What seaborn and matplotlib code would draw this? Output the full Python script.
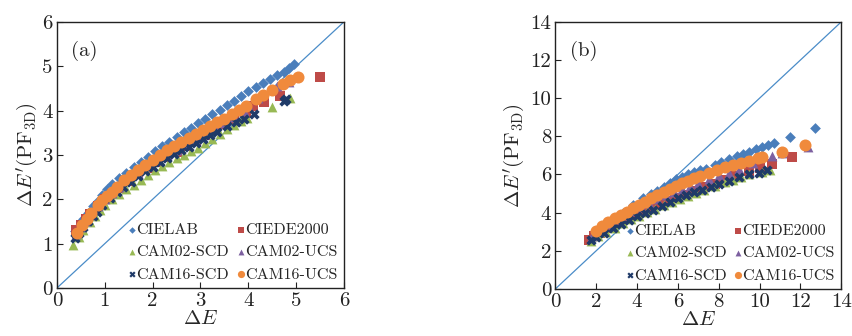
import matplotlib
matplotlib.use("Agg")
import matplotlib.pyplot as plt
import seaborn as sns
import pandas as pd

sns.set_theme(style="white")
plt.rcParams['font.family'] = ['cmr10', 'DejaVu Serif']
plt.rcParams['mathtext.fontset'] = 'cm'
plt.rcParams['axes.formatter.use_mathtext'] = True

series_names = ["CIELAB", "CIEDE2000", "CAM02-SCD", "CAM02-UCS", "CAM16-SCD", "CAM16-UCS"]

# ---------------- Panel (a) ----------------
a_cielab_x = [0.38,0.45,0.55,0.65,0.75,0.85,0.95,1.05,1.15,1.3,1.45,1.6,1.75,1.9,2.05,2.2,2.35,2.5,2.65,2.8,2.95,3.1,3.25,3.4,3.55,3.7,3.85,4.0,4.15,4.3,4.45,4.6,4.75,4.85,4.95]
a_cielab_y = [1.28,1.4,1.55,1.7,1.85,1.97,2.1,2.24,2.34,2.48,2.6,2.72,2.84,2.96,3.08,3.2,3.3,3.41,3.51,3.61,3.72,3.82,3.92,4.02,4.12,4.22,4.32,4.44,4.53,4.62,4.72,4.8,4.88,4.96,5.05]
a_ciede_x = [0.4,0.5,0.6,0.7,0.85,1.0,1.15,1.3,1.5,1.7,1.9,2.1,2.3,2.5,2.7,2.9,3.1,3.3,3.5,3.7,3.95,4.1,4.32,4.67,5.5]
a_ciede_y = [1.3,1.42,1.55,1.67,1.85,2.0,2.12,2.25,2.42,2.56,2.7,2.83,2.95,3.07,3.2,3.32,3.45,3.6,3.7,3.82,3.95,4.1,4.2,4.33,4.75]
a_c02scd_x = [0.34,0.45,0.55,0.68,0.8,0.9,1.0,1.15,1.3,1.45,1.6,1.75,1.9,2.05,2.2,2.35,2.5,2.65,2.8,2.95,3.1,3.25,3.4,3.55,3.7,3.85,3.97,4.5,4.88]
a_c02scd_y = [0.96,1.15,1.3,1.48,1.63,1.76,1.88,2.0,2.12,2.22,2.33,2.44,2.55,2.65,2.74,2.83,2.92,3.0,3.08,3.16,3.26,3.36,3.47,3.59,3.68,3.76,3.84,4.08,4.28]
a_c02ucs_x = [0.4,0.5,0.6,0.7,0.85,1.0,1.15,1.3,1.5,1.7,1.9,2.1,2.3,2.5,2.7,2.9,3.1,3.3,3.5,3.7,3.9,4.0,4.2,4.6,4.85]
a_c02ucs_y = [1.22,1.38,1.52,1.65,1.84,2.0,2.14,2.28,2.45,2.6,2.74,2.88,3.0,3.12,3.24,3.36,3.48,3.6,3.72,3.85,4.0,4.12,4.28,4.55,4.65]
a_c16scd_x = [0.37,0.45,0.55,0.65,0.75,0.83,0.95,1.1,1.25,1.38,1.55,1.7,1.85,2.0,2.15,2.3,2.45,2.6,2.75,2.9,3.05,3.2,3.35,3.55,3.75,3.9,4.11,4.74,4.78]
a_c16scd_y = [1.12,1.25,1.38,1.5,1.62,1.71,1.86,2.02,2.16,2.27,2.4,2.52,2.63,2.73,2.83,2.92,3.01,3.1,3.18,3.26,3.35,3.44,3.52,3.65,3.75,3.82,3.92,4.22,4.27]
a_c16ucs_x = [0.42,0.52,0.62,0.72,0.85,0.95,1.05,1.15,1.25,1.4,1.55,1.7,1.85,2.0,2.15,2.3,2.45,2.6,2.75,2.9,3.05,3.2,3.35,3.5,3.65,3.8,3.95,4.15,4.3,4.5,4.72,4.88,5.03]
a_c16ucs_y = [1.25,1.42,1.56,1.68,1.87,1.98,2.08,2.17,2.28,2.43,2.55,2.67,2.78,2.89,2.99,3.1,3.2,3.29,3.38,3.47,3.56,3.65,3.74,3.82,3.92,4.02,4.1,4.25,4.35,4.47,4.6,4.68,4.75]

# ---------------- Panel (b) ----------------
b_cielab_x = [1.8,2.3,2.8,3.3,3.8,4.3,4.7,5.0,5.3,5.6,5.9,6.2,6.5,6.8,7.1,7.4,7.8,8.1,8.5,8.9,9.2,9.5,9.8,10.1,10.4,10.7,11.5,12.7]
b_cielab_y = [2.7,3.15,3.6,4.0,4.4,4.75,5.0,5.15,5.35,5.55,5.75,5.85,6.0,6.15,6.25,6.3,6.5,6.65,6.8,6.95,7.05,7.2,7.35,7.45,7.55,7.65,7.98,8.45]
b_ciede_x = [1.65,1.9,2.2,2.6,3.0,3.4,3.8,4.2,4.6,5.0,5.4,5.85,6.3,6.8,7.3,7.8,8.3,8.8,9.46,10.0,10.6,11.6]
b_ciede_y = [2.58,2.75,2.95,3.2,3.45,3.65,3.85,4.05,4.25,4.45,4.6,4.75,4.95,5.15,5.35,5.52,5.7,5.9,6.2,6.35,6.55,6.92]
b_c02scd_x = [1.75,2.1,2.5,2.9,3.3,3.7,4.1,4.5,4.9,5.3,5.7,6.1,6.5,6.9,7.3,7.8,8.3,8.7,9.1,9.5,10.1,10.5]
b_c02scd_y = [2.5,2.75,3.0,3.22,3.45,3.65,3.85,4.02,4.2,4.38,4.55,4.72,4.88,5.02,5.2,5.4,5.58,5.72,5.85,6.0,6.15,6.25]
b_c02ucs_x = [1.8,2.2,2.6,3.0,3.4,3.8,4.2,4.6,5.0,5.4,5.8,6.2,6.6,7.0,7.5,8.0,8.5,9.0,9.7,10.6,11.1,12.35]
b_c02ucs_y = [2.75,3.1,3.4,3.65,3.9,4.1,4.3,4.5,4.7,4.9,5.08,5.25,5.42,5.55,5.75,5.95,6.1,6.3,6.6,6.95,7.1,7.45]
b_c16scd_x = [1.75,2.0,2.4,2.8,3.2,3.6,4.0,4.4,4.8,5.2,5.6,6.0,6.4,6.8,7.2,7.6,8.0,8.5,9.0,9.5,9.95,10.35]
b_c16scd_y = [2.58,2.72,2.95,3.18,3.4,3.6,3.8,3.98,4.15,4.35,4.55,4.78,4.92,5.08,5.2,5.35,5.5,5.65,5.85,6.0,6.1,6.25]
b_c16ucs_x = [2.0,2.3,2.6,2.9,3.2,3.5,3.8,4.1,4.4,4.7,5.0,5.3,5.6,5.9,6.2,6.5,6.8,7.1,7.5,7.9,8.3,8.7,9.1,9.5,9.9,10.1,11.1,12.2]
b_c16ucs_y = [3.05,3.3,3.5,3.7,3.88,4.05,4.22,4.38,4.55,4.75,4.93,5.08,5.25,5.4,5.55,5.68,5.8,5.92,6.08,6.25,6.4,6.52,6.6,6.72,6.85,6.92,7.2,7.55]

a_ticks = [0, 1, 2, 3, 4, 5, 6]
b_ticks = [0, 2, 4, 6, 8, 10, 12, 14]

colors = {"CIELAB": "#4a7ebb", "CIEDE2000": "#be4b48", "CAM02-SCD": "#98b954",
          "CAM02-UCS": "#7d60a0", "CAM16-SCD": "#1f3a68", "CAM16-UCS": "#f08a3c"}
markers = {"CIELAB": "D", "CIEDE2000": "s", "CAM02-SCD": "^", "CAM02-UCS": "^",
           "CAM16-SCD": "X", "CAM16-UCS": "o"}
sizes = {"CIELAB": 30, "CIEDE2000": 55, "CAM02-SCD": 50, "CAM02-UCS": 50,
         "CAM16-SCD": 55, "CAM16-UCS": 75}

panel_a = {
    "CIELAB": (a_cielab_x, a_cielab_y), "CIEDE2000": (a_ciede_x, a_ciede_y),
    "CAM02-SCD": (a_c02scd_x, a_c02scd_y), "CAM02-UCS": (a_c02ucs_x, a_c02ucs_y),
    "CAM16-SCD": (a_c16scd_x, a_c16scd_y), "CAM16-UCS": (a_c16ucs_x, a_c16ucs_y),
}
panel_b = {
    "CIELAB": (b_cielab_x, b_cielab_y), "CIEDE2000": (b_ciede_x, b_ciede_y),
    "CAM02-SCD": (b_c02scd_x, b_c02scd_y), "CAM02-UCS": (b_c02ucs_x, b_c02ucs_y),
    "CAM16-SCD": (b_c16scd_x, b_c16scd_y), "CAM16-UCS": (b_c16ucs_x, b_c16ucs_y),
}

fig = plt.figure(figsize=(8.53, 3.36), dpi=100)
ax_a = fig.add_axes([0.0668, 0.143, 0.3365, 0.792])
ax_b = fig.add_axes([0.651, 0.140, 0.3353, 0.795])


def draw(ax, data, ticks, lim, tag):
    ax.plot([0, lim], [0, lim], color="#4a8cc8", lw=0.9, zorder=1)
    for name in series_names:
        xs, ys = data[name]
        df = pd.DataFrame({"x": xs, "y": ys})
        sns.scatterplot(data=df, x="x", y="y", ax=ax, color=colors[name],
                        marker=markers[name], s=sizes[name], linewidth=0,
                        label=name, zorder=3)
    ax.set_xlim(0, lim)
    ax.set_ylim(0, lim)
    ax.set_xticks(ticks)
    ax.set_yticks(ticks)
    ax.set_xticklabels([str(t) for t in ticks])
    ax.set_yticklabels([str(t) for t in ticks])
    ax.tick_params(direction="in", length=4, width=0.8, labelsize=15,
                   bottom=True, left=True, top=False, right=False, pad=3, colors="#222222")
    for sp in ax.spines.values():
        sp.set_visible(True)
        sp.set_color("#222222")
        sp.set_linewidth(1.0)
    ax.set_xlabel(r"$\Delta E$", fontsize=15, labelpad=0)
    ax.set_ylabel(r"$\Delta E'(\mathrm{PF}_{\mathrm{3D}})$", fontsize=15, labelpad=2)
    ax.text(0.05, 0.93, tag, transform=ax.transAxes, fontsize=15, va="top", ha="left")
    h, l = ax.get_legend_handles_labels()
    order = ["CIELAB", "CAM02-SCD", "CAM16-SCD", "CIEDE2000", "CAM02-UCS", "CAM16-UCS"]
    hh = [h[l.index(n)] for n in order]
    ax.legend(hh, order, ncol=2, loc="lower right", frameon=False, fontsize=11.6,
              handletextpad=-0.2, columnspacing=0.3, handlelength=0.9, markerscale=0.6,
              borderaxespad=0.0, labelspacing=0.5)


draw(ax_a, panel_a, a_ticks, 6, "(a)")
draw(ax_b, panel_b, b_ticks, 14, "(b)")

fig.savefig("out.png", dpi=100)
